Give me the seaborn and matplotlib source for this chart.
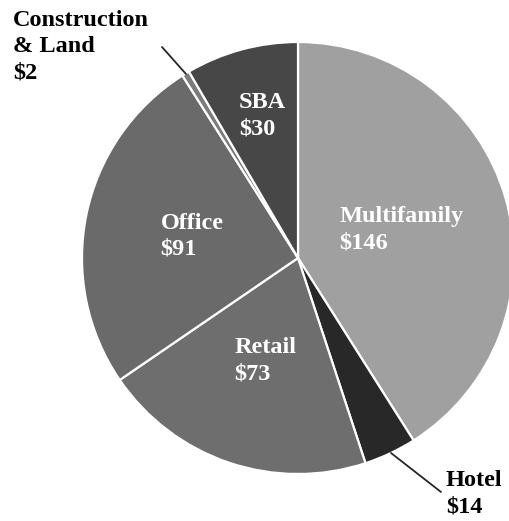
import numpy as np
import matplotlib.pyplot as plt
import seaborn as sns

# loan balances by property type ($ millions)
categories = ['Multifamily', 'Hotel', 'Retail', 'Office', 'Construction\n& Land', 'SBA']
values = [146, 14, 73, 91, 2, 30]
colors = ['#a0a0a0', '#282828', '#6e6e6e', '#6a6a6a', '#7c7c7c', '#474747']

sns.set_theme(style='white')
plt.rcParams['font.family'] = ['Liberation Serif', 'DejaVu Serif']

W, H = 510, 521
fig = plt.figure(figsize=(W / 100, H / 100), dpi=100)
cx, cy, r = 298, 258, 216
ax = fig.add_axes([(cx - r) / W, (H - cy - r) / H, 2 * r / W, 2 * r / H])

wedges, _ = ax.pie(values, colors=colors, startangle=90, counterclock=False,
                   wedgeprops=dict(edgecolor='white', linewidth=1.6))
ax.set_xlim(-1, 1)
ax.set_ylim(-1, 1)
ax.set_aspect('auto')

labels = [f'{c}\n${v}' for c, v in zip(categories, values)]
fs, ls = 17.5, 1.32

# inside labels: (x, y) of text block centre in pie units
inside = {0: (0.48, 0.13), 2: (-0.15, -0.477), 3: (-0.49, 0.10), 5: (-0.165, 0.66)}
for i, (x, y) in inside.items():
    ax.text(x, y, labels[i], ha='center', va='center', multialignment='left',
            color='white', fontsize=fs, fontweight='bold', linespacing=ls)

def px(x, y):
    return ((x - cx) / r, (cy - y) / r)

# outside labels with leader lines
ax.plot(*zip(px(162, 47), px(186, 74)), color='#262626', lw=1.3, clip_on=False)
ax.text(*px(13, 10), labels[4], ha='left', va='top', color='black',
        fontsize=fs, fontweight='bold', linespacing=ls, clip_on=False)

ax.plot(*zip(px(391, 453), px(441, 492)), color='#262626', lw=1.3, clip_on=False)
ax.text(*px(446, 470), labels[1], ha='left', va='top', color='black',
        fontsize=fs, fontweight='bold', linespacing=ls, clip_on=False)

fig.savefig('out.png', dpi=100)
